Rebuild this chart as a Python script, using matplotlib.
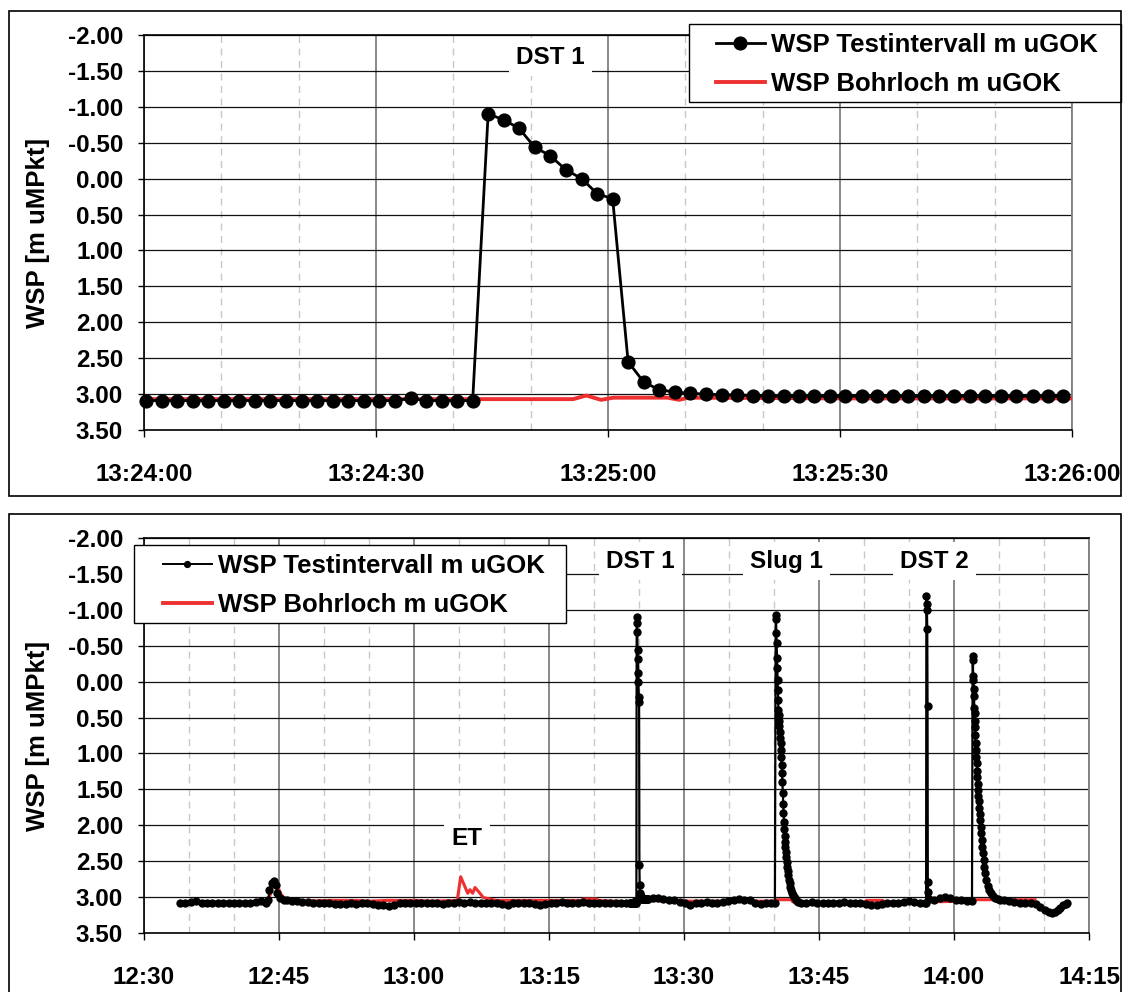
import numpy as np
import matplotlib
matplotlib.use("Agg")
import matplotlib.pyplot as plt
from matplotlib.ticker import MultipleLocator, FuncFormatter
from matplotlib.patches import Rectangle
from matplotlib.lines import Line2D

plt.rcParams['font.family'] = ['Liberation Sans', 'DejaVu Sans']
plt.rcParams['font.weight'] = 'bold'
plt.rcParams['axes.unicode_minus'] = False

# ---------------- data: top panel (seconds after 13:24:00) ----------------
top_sec = [0.3, 2.3, 4.3, 6.3, 8.3, 10.3, 12.3, 14.3, 16.3, 18.3,
           20.4, 22.4, 24.4, 26.4, 28.4, 30.4, 32.4,
           34.5, 36.5, 38.5, 40.5, 42.5, 44.5, 46.5, 48.5, 50.5, 52.5,
           54.6, 56.6, 58.6, 60.6, 62.6, 64.6, 66.6, 68.6, 70.6,
           72.7, 74.7, 76.7, 78.7, 80.7, 82.7, 84.7, 86.7, 88.7, 90.7,
           92.8, 94.8, 96.8, 98.8, 100.8, 102.8, 104.8, 106.8, 108.8, 110.8, 112.8,
           114.9, 116.9, 118.9]
top_val = [3.09, 3.09, 3.09, 3.09, 3.09, 3.09, 3.09, 3.09, 3.09, 3.09,
           3.09, 3.09, 3.09, 3.09, 3.09, 3.09, 3.09, 3.06, 3.09, 3.09,
           3.09, 3.09,
           -0.90, -0.82, -0.70, -0.44, -0.32, -0.12, 0.00, 0.21, 0.28,
           2.55, 2.83, 2.94, 2.97, 2.99, 3.00, 3.01, 3.01, 3.02,
           3.03, 3.03, 3.03, 3.03, 3.03, 3.03, 3.03, 3.03, 3.03, 3.03,
           3.03, 3.03, 3.03, 3.03, 3.03, 3.03, 3.03, 3.03, 3.03, 3.03]
top_red_sec = [0, 20, 40, 55.5, 57.2, 59.1, 60.7, 67.7, 69.2, 70.4, 90, 120]
top_red_val = [3.07, 3.07, 3.07, 3.07, 3.02, 3.08, 3.05, 3.05, 3.08, 3.05, 3.06, 3.06]

# ---------------- data: bottom panel (minutes after 12:30) ----------------
b1_min = [4.0, 4.6, 5.2, 5.8, 6.4, 7.0, 7.6, 8.2, 8.8, 9.4, 10.0, 10.6, 11.2, 11.8, 12.4, 13.0, 13.5]
b1_val = [3.08, 3.08, 3.07, 3.06, 3.08, 3.08, 3.08, 3.08, 3.08, 3.09, 3.08, 3.08, 3.08, 3.08, 3.07, 3.06, 3.08]
bump_min = [13.81, 13.93, 14.19, 14.44, 14.67, 14.81, 15.11, 15.5, 15.85, 16.4]
bump_val = [3.05, 2.91, 2.81, 2.78, 2.84, 2.95, 3.02, 3.04, 3.05, 3.06]
b2_min = [17.0, 17.6, 18.2, 18.8, 19.4, 20.0, 20.6, 21.2, 21.8, 22.4, 23.0, 23.6, 24.2, 24.8,
          25.4, 26.0, 26.6, 27.2, 27.8, 28.4, 29.0, 29.6, 30.2, 30.8, 31.4, 32.0, 32.6, 33.2,
          33.8, 34.4, 35.0, 35.6, 36.2, 36.8, 37.4, 38.0, 38.6, 39.2, 39.8, 40.4, 41.0, 41.6,
          42.2, 42.8, 43.4, 44.0, 44.6, 45.2, 45.8, 46.4, 47.0, 47.6, 48.2, 48.8, 49.4, 50.0,
          50.6, 51.2, 51.8, 52.4, 53.0, 53.6]
b2_val = [3.06, 3.07, 3.07, 3.08, 3.08, 3.09, 3.09, 3.10, 3.10, 3.10, 3.09, 3.10, 3.09, 3.09,
          3.10, 3.11, 3.12, 3.13, 3.11, 3.09, 3.08, 3.09, 3.08, 3.08, 3.09, 3.08, 3.09, 3.10,
          3.09, 3.08, 3.07, 3.08, 3.07, 3.08, 3.08, 3.08, 3.09, 3.08, 3.10, 3.12, 3.09, 3.09,
          3.08, 3.09, 3.10, 3.11, 3.10, 3.08, 3.08, 3.07, 3.08, 3.08, 3.08, 3.07, 3.08, 3.08,
          3.08, 3.08, 3.09, 3.08, 3.08, 3.08]
b3_min = [56.5, 57.1, 57.7, 58.3, 58.9, 59.5, 60.1, 60.7, 61.3, 61.9, 62.5, 63.1, 63.7, 64.3,
          64.9, 65.5, 66.1, 66.7, 67.3, 67.9, 68.5, 69.1, 69.7, 70.1]
b3_val = [3.02, 3.01, 3.03, 3.04, 3.05, 3.07, 3.09, 3.11, 3.08, 3.08, 3.07, 3.08, 3.08, 3.07,
          3.06, 3.04, 3.03, 3.04, 3.05, 3.08, 3.10, 3.08, 3.08, 3.08]
slug_min = [70.19, 70.22, 70.26, 70.29, 70.32, 70.36, 70.39, 70.42, 70.46, 70.49,
            70.53, 70.57, 70.61, 70.65, 70.69, 70.73, 70.77, 70.81, 70.85, 70.89, 70.93, 70.97,
            71.01, 71.05, 71.09, 71.13, 71.17, 71.22, 71.27, 71.32, 71.37, 71.42, 71.48, 71.54,
            71.60, 71.66, 71.73, 71.80, 71.88, 71.97, 72.07, 72.18, 72.30, 72.43, 72.57, 72.71]
slug_val = [-0.93, -0.88, -0.68, -0.54, -0.33, -0.19, -0.02, 0.12, 0.26, 0.40,
            0.47, 0.55, 0.62, 0.70, 0.78, 0.86, 0.95, 1.05, 1.16, 1.27, 1.40, 1.55,
            1.70, 1.83, 1.95, 2.06, 2.15, 2.23, 2.31, 2.38, 2.45, 2.52, 2.58, 2.64,
            2.70, 2.76, 2.81, 2.86, 2.90, 2.94, 2.97, 3.00, 3.02, 3.04, 3.06, 3.07]
b4_min = [73.0, 73.6, 74.2, 74.8, 75.4, 76.0, 76.6, 77.2, 77.8, 78.4, 79.0, 79.6, 80.2, 80.8,
          81.4, 82.0, 82.6, 83.2, 83.8, 84.4, 85.0, 85.6, 86.2, 86.8, 86.9]
b4_val = [3.08, 3.08, 3.07, 3.08, 3.08, 3.09, 3.08, 3.08, 3.07, 3.08, 3.09, 3.09, 3.10, 3.11,
          3.11, 3.10, 3.09, 3.08, 3.08, 3.07, 3.06, 3.07, 3.08, 3.08, 3.08]
dst2a_min = [86.93, 86.96, 86.99, 87.03, 87.06, 87.09, 87.13]
dst2a_val = [-1.19, -1.09, -1.00, -0.73, 0.34, 2.79, 2.93]
b5_min = [87.25, 87.8, 88.4, 89.0, 89.6, 90.2, 90.8, 91.4, 92.0]
b5_val = [3.03, 3.04, 3.02, 3.00, 3.01, 3.04, 3.05, 3.06, 3.06]
dst2b_min = [92.07, 92.10, 92.13, 92.16, 92.19, 92.22, 92.25, 92.28, 92.31, 92.34, 92.37, 92.40,
             92.44, 92.48, 92.52, 92.56, 92.60, 92.64, 92.68, 92.72, 92.76, 92.80, 92.85, 92.90,
             92.95, 93.01, 93.07, 93.14, 93.21, 93.29, 93.38, 93.48, 93.60, 93.74, 93.90, 94.08,
             94.30, 94.56, 94.85, 95.15]
dst2b_val = [-0.36, -0.30, -0.08, -0.02, 0.10, 0.20, 0.37, 0.43, 0.55, 0.63, 0.74, 0.86,
             0.95, 1.05, 1.14, 1.24, 1.33, 1.42, 1.51, 1.59, 1.67, 1.76, 1.84, 1.93,
             2.02, 2.11, 2.21, 2.30, 2.39, 2.48, 2.58, 2.67, 2.77, 2.85, 2.91, 2.95,
             2.99, 3.01, 3.03, 3.04]
b6_min = [95.5, 96.1, 96.7, 97.3, 97.9, 98.5, 99.1, 99.6, 100.1, 100.5, 100.9, 101.2, 101.5,
          101.8, 102.1, 102.4, 102.6]
b6_val = [3.05, 3.06, 3.07, 3.08, 3.08, 3.09, 3.10, 3.14, 3.18, 3.21, 3.22, 3.21, 3.18,
          3.15, 3.12, 3.10, 3.09]

red_min = [4.0, 8.0, 13.6, 14.0, 14.3, 14.6, 14.9, 15.2, 15.6, 16.2, 18.0, 20.3, 23.7, 25.0,
           27.0, 30.3, 32.0, 34.8, 35.19, 35.97, 36.22, 36.52, 36.78, 37.33, 37.7, 38.44,
           39.2, 44.0, 48.6, 48.8, 50.3, 50.5, 54.0, 55.0, 60.0, 65.0, 70.2, 70.3, 71.9,
           72.1, 80.0, 80.3, 82.1, 82.3, 87.0, 92.0, 92.1, 99.0]
red_val = [3.07, 3.07, 3.07, 2.98, 2.84, 2.80, 2.87, 2.96, 3.02, 3.05, 3.06, 3.05, 3.05, 3.06,
           3.05, 3.05, 3.06, 3.05, 2.72, 2.95, 2.90, 2.95, 2.87, 2.95, 3.01, 3.03,
           3.05, 3.05, 3.05, 3.03, 3.03, 3.05, 3.07, 3.05, 3.06, 3.06, 3.06, 3.04, 3.04,
           3.07, 3.07, 3.05, 3.05, 3.07, 3.07, 3.06, 3.04, 3.04]

labels = ['WSP Testintervall m uGOK', 'WSP Bohrloch m uGOK']
BLACK = '#000000'
RED = '#ee3030'
FS = 17.5
FS_LEG = 18.5

W, H = 1123, 992
fig = plt.figure(figsize=(W / 100, H / 100), dpi=100)


def fx(px):
    return px / W


def fy(py):
    return 1 - py / H


def fmt_top(s, pos):
    t = int(round(13 * 3600 + 24 * 60 + s))
    return '%d:%02d:%02d' % (t // 3600, (t % 3600) // 60, t % 60)


def fmt_bot(m, pos):
    t = int(round(12 * 60 + 30 + m))
    return '%d:%02d' % (t // 60, t % 60)


def style_axes(ax, xmax, xmaj, xmin, fmt):
    ax.set_xlim(0, xmax)
    ax.set_ylim(3.5, -2.0)
    ax.xaxis.set_major_locator(MultipleLocator(xmaj))
    ax.xaxis.set_minor_locator(MultipleLocator(xmin))
    ax.yaxis.set_major_locator(MultipleLocator(0.5))
    ax.xaxis.set_major_formatter(FuncFormatter(fmt))
    ax.yaxis.set_major_formatter(FuncFormatter(lambda v, p: '%.2f' % v))
    ax.grid(which='minor', axis='x', color='#c8c8c8', ls=(0, (5, 4)), lw=1.0)
    ax.grid(which='major', axis='x', color='#808080', lw=1.3)
    ax.grid(which='major', axis='y', color='#111111', lw=0.9)
    ax.set_axisbelow(True)
    ax.tick_params(which='minor', length=0)
    ax.tick_params(axis='y', which='major', length=4, width=1, pad=11, labelsize=FS)
    ax.tick_params(axis='x', which='major', length=5, width=1, pad=19, labelsize=FS)
    for lab in ax.get_xticklabels() + ax.get_yticklabels():
        lab.set_fontweight('bold')
    for s in ['left', 'bottom', 'top']:
        ax.spines[s].set_color('black')
        ax.spines[s].set_linewidth(1.2)
    ax.spines['right'].set_color('#808080')
    ax.spines['right'].set_linewidth(1.3)


def legend_box(ax, x0, y0, x1, y1, handles, hx, hy):
    ax.add_patch(Rectangle((fx(x0), fy(y1)), (x1 - x0) / W, (y1 - y0) / H,
                           transform=fig.transFigure, clip_on=False, fc='white',
                           ec='black', lw=1.0, zorder=6))
    leg = ax.legend(handles, labels, loc='upper left', bbox_to_anchor=(fx(hx), fy(hy)),
                    bbox_transform=fig.transFigure, frameon=False, borderpad=0,
                    borderaxespad=0, handlelength=1.9, handletextpad=0.25,
                    labelspacing=0.58, prop={'size': FS_LEG, 'weight': 'bold'})
    leg.set_zorder(7)
    return leg


# ---------------- top panel ----------------
ax1 = fig.add_axes([fx(144), fy(430), (1072 - 144) / W, (430 - 35) / H])
style_axes(ax1, 120, 30, 10, fmt_top)
ax1.plot(top_red_sec, top_red_val, color=RED, lw=2.8, zorder=4, solid_joinstyle='round')
ax1.plot(top_sec, top_val, color=BLACK, lw=2.0, marker='o', ms=9.2, zorder=5, clip_on=False)
ax1.text(52.6, -1.69, 'DST 1', ha='center', va='center', fontsize=FS, fontweight='bold',
         bbox=dict(boxstyle='square,pad=0.3', fc='white', ec='none'), zorder=3)
h_top = [Line2D([], [], color=BLACK, lw=2.0, marker='o', ms=9.2),
         Line2D([], [], color=RED, lw=2.8)]
legend_box(ax1, 689, 24, 1121, 102, h_top, 716, 33)

# ---------------- bottom panel ----------------
ax2 = fig.add_axes([fx(144), fy(932.7), (1089 - 144) / W, (932.7 - 538.3) / H])
style_axes(ax2, 105, 15, 5, fmt_bot)
seg_min = [b1_min, bump_min, b2_min, list(54 + np.array(top_sec) / 60.0), b3_min, slug_min,
           b4_min, dst2a_min, b5_min, dst2b_min, b6_min]
seg_val = [b1_val, bump_val, b2_val, top_val, b3_val, slug_val,
           b4_val, dst2a_val, b5_val, dst2b_val, b6_val]
bot_min = np.concatenate([np.asarray(s, float) for s in seg_min])
bot_val = np.concatenate([np.asarray(s, float) for s in seg_val])
ax2.plot(red_min, red_val, color=RED, lw=2.2, zorder=4)
ax2.plot(bot_min, bot_val, color=BLACK, lw=1.6, marker='o', ms=5.0, zorder=5)
for xm, yv, txt in [(55.2, -1.68, 'DST 1'), (71.4, -1.68, 'Slug 1'), (87.8, -1.68, 'DST 2'),
                    (35.9, 2.18, 'ET')]:
    ax2.text(xm, yv, txt, ha='center', va='center', fontsize=FS, fontweight='bold',
             bbox=dict(boxstyle='square,pad=0.3', fc='white', ec='none'), zorder=3)
h_bot = [Line2D([], [], color=BLACK, lw=1.4, marker='o', ms=4.2),
         Line2D([], [], color=RED, lw=2.8)]
legend_box(ax2, 134, 545, 566, 623, h_bot, 163, 554)

# y labels
for yc in (232.5, 735.5):
    fig.text(fx(38), fy(yc), 'WSP [m uMPkt]', rotation=90, ha='center', va='center',
             fontsize=FS_LEG, fontweight='bold')

# panel frames
fig.add_artist(Rectangle((fx(9), fy(496)), (1121 - 9) / W, (496 - 11) / H,
                         transform=fig.transFigure, fill=False, ec='black', lw=1.2))
fig.add_artist(Rectangle((fx(9), fy(1010)), (1121 - 9) / W, (1010 - 514) / H,
                         transform=fig.transFigure, fill=False, ec='black', lw=1.2,
                         clip_on=False))

fig.savefig('out.png', dpi=100)
